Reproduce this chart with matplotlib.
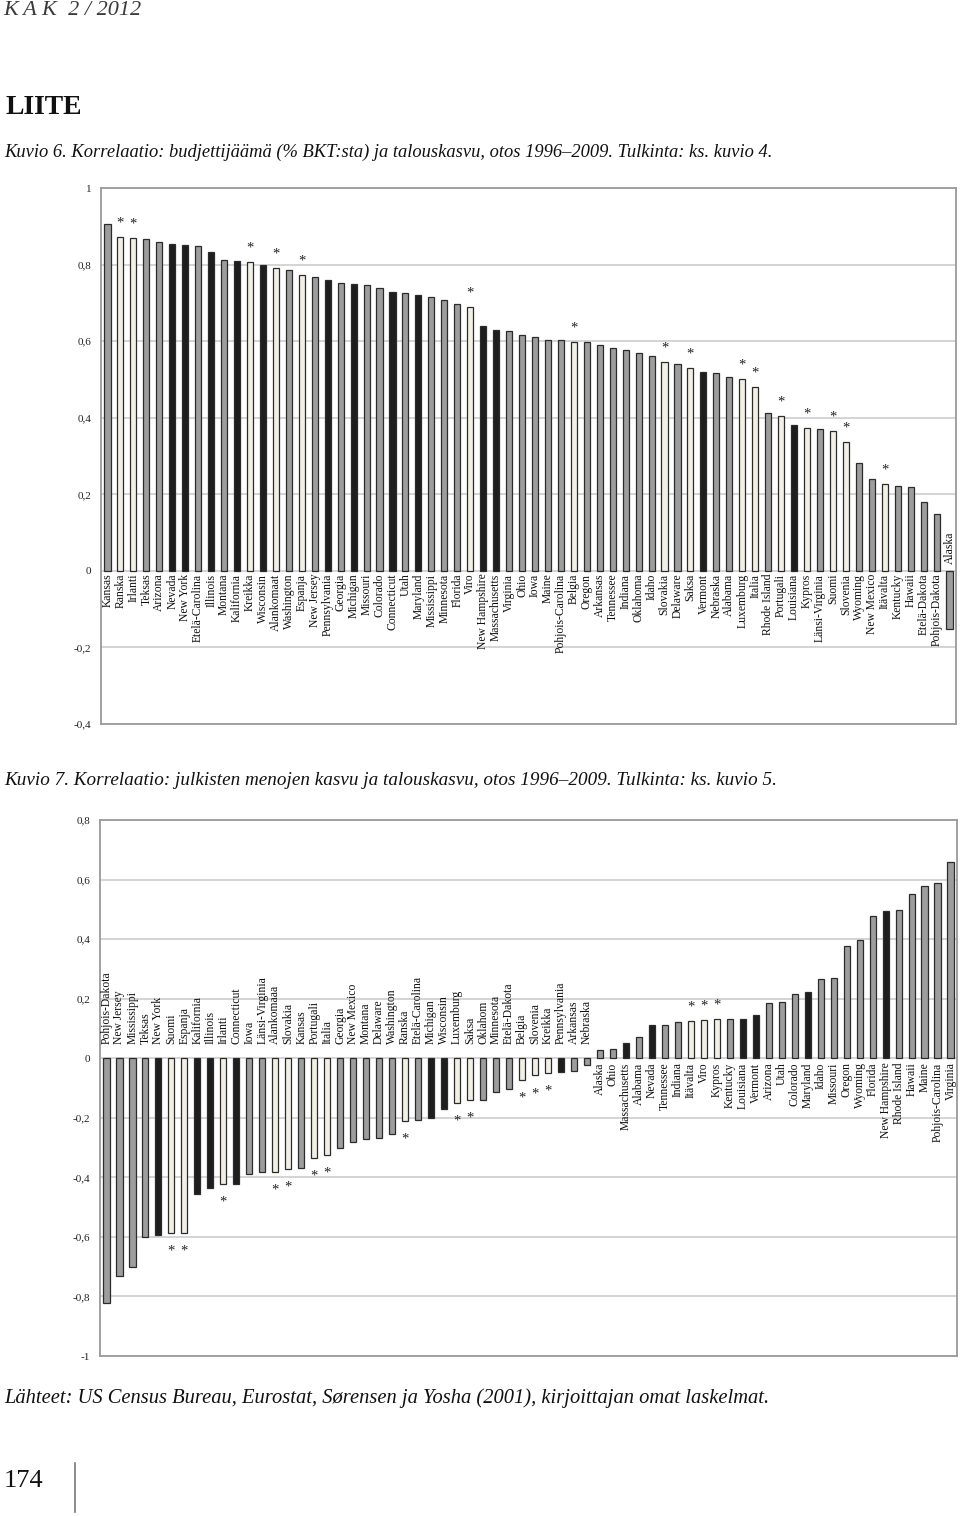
import matplotlib
matplotlib.use('Agg')
import matplotlib.pyplot as plt
import numpy as np

SERIF = ['Liberation Serif', 'DejaVu Serif']
plt.rcParams['font.family'] = SERIF

# ---------------- data ----------------
top_labels = ["Kansas", "Ranska", "Irlanti", "Teksas", "Arizona", "Nevada", "New York",
              "Etelä-Carolina", "Illinois", "Montana", "Kalifornia", "Kreikka", "Wisconsin",
              "Alankomaat", "Washington", "Espanja", "New Jersey", "Pennsylvania", "Georgia",
              "Michigan", "Missouri", "Colorado", "Connecticut", "Utah", "Maryland",
              "Mississippi", "Minnesota", "Florida", "Viro", "New Hampshire", "Massachusetts",
              "Virginia", "Ohio", "Iowa", "Maine", "Pohjois-Carolina", "Belgia", "Oregon",
              "Arkansas", "Tennessee", "Indiana", "Oklahoma", "Idaho", "Slovakia", "Delaware",
              "Saksa", "Vermont", "Nebraska", "Alabama", "Luxemburg", "Italia", "Rhode Island",
              "Portugali", "Louisiana", "Kypros", "Länsi-Virginia", "Suomi", "Slovenia",
              "Wyoming", "New Mexico", "Itävalta", "Kentucky", "Hawaii", "Etelä-Dakota",
              "Pohjois-Dakota", "Alaska"]
top_values = [0.906, 0.873, 0.870, 0.867, 0.858, 0.855, 0.850, 0.849, 0.834, 0.811, 0.810,
              0.808, 0.798, 0.792, 0.787, 0.774, 0.768, 0.760, 0.751, 0.749, 0.747, 0.740,
              0.729, 0.725, 0.721, 0.716, 0.707, 0.697, 0.690, 0.639, 0.628, 0.627, 0.615,
              0.610, 0.604, 0.603, 0.598, 0.597, 0.590, 0.583, 0.578, 0.568, 0.562, 0.546,
              0.539, 0.530, 0.519, 0.517, 0.506, 0.500, 0.480, 0.413, 0.405, 0.380, 0.374,
              0.371, 0.366, 0.336, 0.282, 0.239, 0.228, 0.222, 0.219, 0.181, 0.148, -0.153]

bottom_labels = ["Pohjois-Dakota", "New Jersey", "Mississippi", "Teksas", "New York", "Suomi",
                 "Espanja", "Kalifornia", "Illinois", "Irlanti", "Connecticut", "Iowa",
                 "Länsi-Virginia", "Alankomaaa", "Slovakia", "Kansas", "Portugali", "Italia",
                 "Georgia", "New Mexico", "Montana", "Delaware", "Washington", "Ranska",
                 "Etelä-Carolina", "Michigan", "Wisconsin", "Luxemburg", "Saksa", "Oklahom",
                 "Minnesota", "Etelä-Dakota", "Belgia", "Slovenia", "Kreikka", "Pennsylvania",
                 "Arkansas", "Nebraska", "Alaska", "Ohio", "Massachusetts", "Alabama", "Nevada",
                 "Tennessee", "Indiana", "Itävalta", "Viro", "Kypros", "Kentucky", "Louisiana",
                 "Vermont", "Arizona", "Utah", "Colorado", "Maryland", "Idaho", "Missouri",
                 "Oregon", "Wyoming", "Florida", "New Hampshire", "Rhode Island", "Hawaii",
                 "Maine", "Pohjois-Carolina", "Virginia"]
bottom_values = [-0.823, -0.733, -0.700, -0.601, -0.595, -0.588, -0.586, -0.456, -0.437,
                 -0.424, -0.422, -0.389, -0.382, -0.382, -0.373, -0.368, -0.334, -0.324,
                 -0.301, -0.280, -0.272, -0.269, -0.256, -0.211, -0.206, -0.202, -0.169,
                 -0.149, -0.139, -0.139, -0.114, -0.102, -0.072, -0.058, -0.049, -0.046,
                 -0.044, -0.024, 0.026, 0.030, 0.052, 0.071, 0.110, 0.110, 0.120, 0.126,
                 0.130, 0.133, 0.133, 0.133, 0.146, 0.184, 0.190, 0.214, 0.223, 0.266,
                 0.271, 0.376, 0.398, 0.478, 0.493, 0.498, 0.552, 0.577, 0.590, 0.658]

# euro-area countries (light bars, marked with *)
countries = ["Ranska", "Irlanti", "Kreikka", "Alankomaat", "Alankomaaa", "Espanja", "Viro",
             "Belgia", "Slovakia", "Saksa", "Luxemburg", "Italia", "Portugali", "Kypros",
             "Suomi", "Slovenia", "Itävalta"]
# states drawn in black
black_states = ["Nevada", "New York", "Illinois", "Kalifornia", "Wisconsin", "Pennsylvania",
                "Michigan", "Connecticut", "Maryland", "New Hampshire", "Massachusetts",
                "Vermont", "Louisiana"]

top_yticks = [-0.4, -0.2, 0.0, 0.2, 0.4, 0.6, 0.8, 1.0]
bottom_yticks = [-1.0, -0.8, -0.6, -0.4, -0.2, 0.0, 0.2, 0.4, 0.6, 0.8]

# ---------------- figure ----------------
W, H = 960, 1516
fig = plt.figure(figsize=(W / 100, H / 100), dpi=100)
fig.patch.set_facecolor('white')


def axes_px(left, top, right, bottom):
    return fig.add_axes([left / W, 1 - bottom / H, (right - left) / W, (bottom - top) / H])


def fmt(v):
    s = f"{v:.1f}".replace('.', ',')
    if s.endswith(',0'):
        s = s[:-2]
    if s == '-0':
        s = '0'
    return s


GRAY, BLACK, LIGHT = '#9d9d9d', '#1e1e1e', '#f2f0e5'


def draw(ax, labels, values, yticks, neg_label_off, pos_label_off):
    n = len(labels)
    x = np.arange(n)
    cols = [LIGHT if l in countries else (BLACK if l in black_states else GRAY) for l in labels]
    ax.bar(x, values, width=0.47, color=cols, edgecolor='#2b2b2b', linewidth=0.9, zorder=3)
    ax.set_xlim(-0.5, n - 0.5)
    ax.set_ylim(yticks[0], yticks[-1])
    ax.set_yticks(yticks)
    ax.set_yticklabels([fmt(v) for v in yticks])
    ax.tick_params(axis='y', length=0, pad=7, labelsize=8, labelcolor='#222222')
    ax.set_xticks([])
    ax.grid(axis='y', color='#c9c9c9', linewidth=1.1, zorder=0)
    ax.set_axisbelow(True)
    for s in ax.spines.values():
        s.set_color('#9a9a9a')
        s.set_linewidth(1.3)
    for i, (lab, v) in enumerate(zip(labels, values)):
        if v >= 0:
            ax.annotate(lab, (i, 0), xytext=(0, -pos_label_off), textcoords='offset points',
                        rotation=90, ha='center', va='top', fontsize=8.4, color='#111111',
                        zorder=4)
        else:
            ax.annotate(lab, (i, 0), xytext=(0, neg_label_off), textcoords='offset points',
                        rotation=90, ha='center', va='bottom', fontsize=8.4, color='#111111',
                        zorder=4)
        if lab in countries:
            off = 10 if v >= 0 else -13
            ax.annotate('*', (i, v), xytext=(0, off), textcoords='offset points',
                        ha='center', va='center', fontsize=10.5, color='#222222', zorder=4)


ax1 = axes_px(101, 188, 956, 724)
draw(ax1, top_labels, top_values, top_yticks, neg_label_off=5, pos_label_off=2)

ax2 = axes_px(100, 820, 957, 1356)
draw(ax2, bottom_labels, bottom_values, bottom_yticks, neg_label_off=10, pos_label_off=3)


# ---------------- page texts ----------------
def ftext(x, y, s, **kw):
    fig.text(x / W, 1 - y / H, s, va='baseline', ha='left', **kw)


ftext(3, 15, "K A K  2 / 2012", fontsize=16, style='italic', color='#3a3a3a')
ftext(5, 114, "LIITE", fontsize=20, weight='bold', color='#111111')
ftext(4, 157, "Kuvio 6. Korrelaatio: budjettijäämä (% BKT:sta) ja talouskasvu, otos 1996–2009. "
              "Tulkinta: ks. kuvio 4.", fontsize=13.3, style='italic', color='#111111')
ftext(4, 785, "Kuvio 7. Korrelaatio: julkisten menojen kasvu ja talouskasvu, otos 1996–2009. "
              "Tulkinta: ks. kuvio 5.", fontsize=13.75, style='italic', color='#111111')
ftext(4, 1403, "Lähteet: US Census Bureau, Eurostat, Sørensen ja Yosha (2001), "
               "kirjoittajan omat laskelmat.", fontsize=14.8, style='italic', color='#111111')
ftext(4, 1487, "174", fontsize=19, color='#111111')
fig.add_artist(plt.Line2D([75 / W, 75 / W], [1 - 1463 / H, 1 - 1512 / H],
                          color='#777777', linewidth=1.2))

fig.savefig('out.png', dpi=100, facecolor='white')
